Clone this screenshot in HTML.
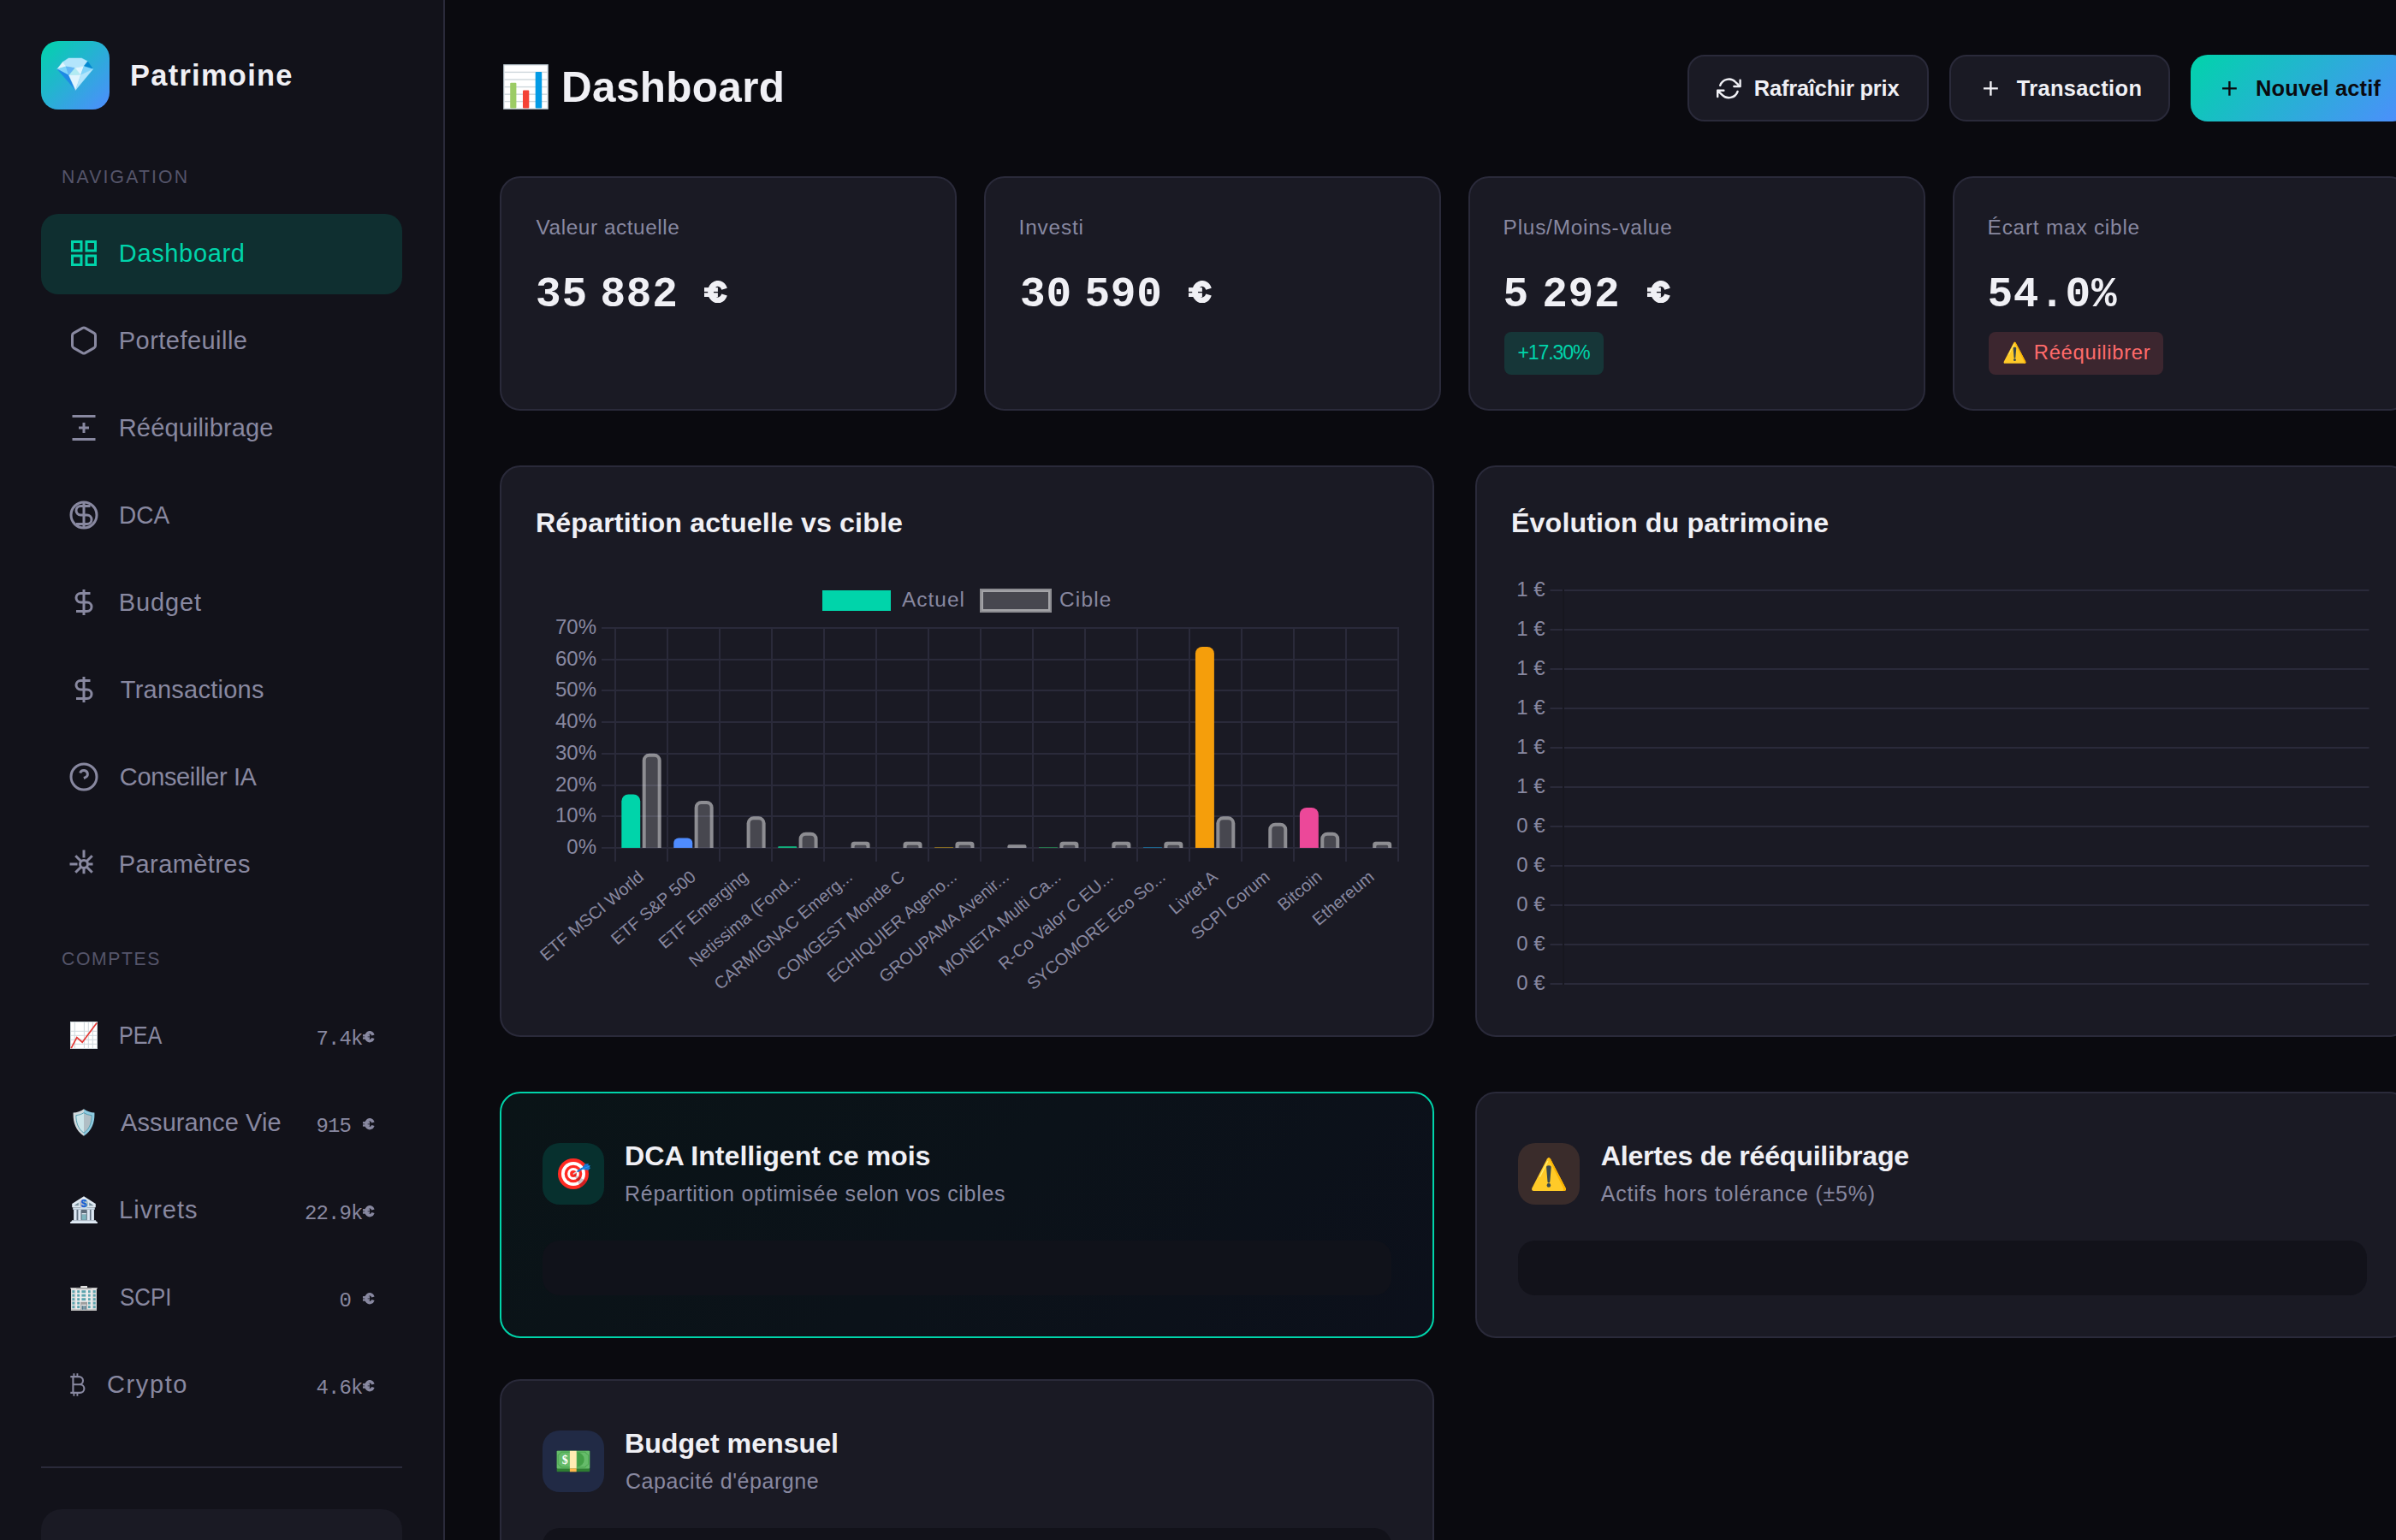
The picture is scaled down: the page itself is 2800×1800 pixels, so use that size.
<!DOCTYPE html>
<html lang="fr"><head><meta charset="utf-8"><title>Patrimoine - Dashboard</title>
<style>
html,body{margin:0;padding:0;}
body{width:2800px;height:1800px;overflow:hidden;position:relative;background:#0a0a0f;font-family:"Liberation Sans",sans-serif;}
.b{position:absolute;display:block;box-sizing:border-box;}
.t{position:absolute;white-space:nowrap;margin:0;}
</style></head><body>
<aside>
<div class="b" style="left:0px;top:0px;width:518px;height:1800px;background:#12121a;border-radius:0px;"></div>
<div class="b" style="left:518px;top:0px;width:2px;height:1800px;background:#2a2a3a;border-radius:0px;"></div>
<div class="b" style="left:48px;top:48px;width:80px;height:80px;background:linear-gradient(135deg,#00d4aa,#4f8cff);border-radius:20px;"></div>
<svg class="b" style="left:48px;top:48px" width="80" height="80" viewBox="0 0 80 80" ><polygon points="25.3,24.4 32.1,19.9 47.4,19.9 54.5,23.7 50,29.4 39.6,31.5 29.2,29.7" fill="#b3e5fc" stroke="#b3e5fc" stroke-width="0.4"/><polygon points="25.3,24.4 29.2,29.7 18.8,32.8" fill="#e1f5fe" stroke="#e1f5fe" stroke-width="0.4"/><polygon points="54.5,23.7 60.7,32.7 50,29.4" fill="#0288d1" stroke="#0288d1" stroke-width="0.4"/><polygon points="18.8,32.8 29.2,29.7 32.5,40.1" fill="#81d4fa" stroke="#81d4fa" stroke-width="0.4"/><polygon points="29.2,29.7 39.6,31.5 32.5,40.1" fill="#64b5f6" stroke="#64b5f6" stroke-width="0.4"/><polygon points="39.6,31.5 46.4,39.6 32.5,40.1" fill="#b2ebf2" stroke="#b2ebf2" stroke-width="0.4"/><polygon points="39.6,31.5 50,29.4 46.4,39.6" fill="#e1f5fe" stroke="#e1f5fe" stroke-width="0.4"/><polygon points="50,29.4 60.7,32.7 46.4,39.6" fill="#81d4fa" stroke="#81d4fa" stroke-width="0.4"/><polygon points="18.8,32.8 32.5,40.1 40.3,57.3" fill="#1e88e5" stroke="#1e88e5" stroke-width="0.4"/><polygon points="32.5,40.1 46.4,39.6 40.3,57.3" fill="#e1f5fe" stroke="#e1f5fe" stroke-width="0.4"/><polygon points="60.7,32.7 46.4,39.6 40.3,57.3" fill="#b3e5fc" stroke="#b3e5fc" stroke-width="0.4"/></svg>
<div id="logo" class="t" style="left:152.00px;top:71.18px;font:700 34.40px/1 'Liberation Sans',sans-serif;color:#f0f0f5;letter-spacing:1.300px;">Patrimoine</div>
<div id="secnav" class="t" style="left:72.00px;top:196.15px;font:400 21.20px/1 'Liberation Sans',sans-serif;color:#55556a;letter-spacing:2.164px;">NAVIGATION</div>
<div class="b" style="left:48px;top:250px;width:422px;height:94px;background:#0f2f30;border-radius:20px;"></div>
<svg class="b" style="left:80px;top:278px" width="36" height="36" viewBox="0 0 24 24" fill="none" stroke="#00d4aa" stroke-width="2"><rect x="3" y="3" width="7" height="7"/><rect x="14" y="3" width="7" height="7"/><rect x="14" y="14" width="7" height="7"/><rect x="3" y="14" width="7" height="7"/></svg>
<div id="nav0" class="t" style="left:138.80px;top:281.95px;font:400 29.00px/1 'Liberation Sans',sans-serif;color:#00d4aa;letter-spacing:0.657px;">Dashboard</div>
<svg class="b" style="left:80px;top:380px" width="36" height="36" viewBox="0 0 24 24" fill="none" stroke="#8888a0" stroke-width="2"><path stroke-linejoin="round" d="M21 16V8a2 2 0 0 0-1-1.73l-7-4a2 2 0 0 0-2 0l-7 4A2 2 0 0 0 3 8v8a2 2 0 0 0 1 1.73l7 4a2 2 0 0 0 2 0l7-4A2 2 0 0 0 21 16z"/></svg>
<div id="nav1" class="t" style="left:138.80px;top:383.95px;font:400 29.00px/1 'Liberation Sans',sans-serif;color:#8888a0;letter-spacing:0.458px;">Portefeuille</div>
<svg class="b" style="left:80px;top:482px" width="36" height="36" viewBox="0 0 24 24" fill="none" stroke="#8888a0" stroke-width="2"><path d="M3 3h18M3 21h18M12 8v8M8 12h8"/></svg>
<div id="nav2" class="t" style="left:138.80px;top:485.95px;font:400 29.00px/1 'Liberation Sans',sans-serif;color:#8888a0;letter-spacing:0.131px;">Rééquilibrage</div>
<svg class="b" style="left:80px;top:584px" width="36" height="36" viewBox="0 0 24 24" fill="none" stroke="#8888a0" stroke-width="2"><circle cx="12" cy="12" r="10"/><path d="M12 2v20M17 5H9.5a3.5 3.5 0 0 0 0 7h5a3.5 3.5 0 0 1 0 7H6"/></svg>
<div id="nav3" class="t" style="left:138.87px;top:587.95px;font:400 29.00px/1 'Liberation Sans',sans-serif;color:#8888a0;letter-spacing:0.000px;transform:scaleX(0.9652);transform-origin:0 0;">DCA</div>
<svg class="b" style="left:80px;top:686px" width="36" height="36" viewBox="0 0 24 24" fill="none" stroke="#8888a0" stroke-width="2"><path d="M12 2v20M17 5H9.5a3.5 3.5 0 0 0 0 7h5a3.5 3.5 0 0 1 0 7H6"/></svg>
<div id="nav4" class="t" style="left:138.80px;top:689.95px;font:400 29.00px/1 'Liberation Sans',sans-serif;color:#8888a0;letter-spacing:0.849px;">Budget</div>
<svg class="b" style="left:80px;top:788px" width="36" height="36" viewBox="0 0 24 24" fill="none" stroke="#8888a0" stroke-width="2"><path d="M12 2v20M17 5H9.5a3.5 3.5 0 0 0 0 7h5a3.5 3.5 0 0 1 0 7H6"/></svg>
<div id="nav5" class="t" style="left:140.80px;top:791.95px;font:400 29.00px/1 'Liberation Sans',sans-serif;color:#8888a0;letter-spacing:0.242px;">Transactions</div>
<svg class="b" style="left:80px;top:890px" width="36" height="36" viewBox="0 0 24 24" fill="none" stroke="#8888a0" stroke-width="2"><circle cx="12" cy="12" r="10"/><path d="M9.09 9a3 3 0 0 1 5.83 1c0 2-3 3-3 3"/></svg>
<div id="nav6" class="t" style="left:139.80px;top:893.95px;font:400 29.00px/1 'Liberation Sans',sans-serif;color:#8888a0;letter-spacing:-0.355px;">Conseiller IA</div>
<svg class="b" style="left:80px;top:992px" width="36" height="36" viewBox="0 0 24 24" fill="none" stroke="#8888a0" stroke-width="2"><circle cx="12" cy="12" r="3"/><path d="M12 1v6M12 15.2v4.3M1 12h6M15.2 12h3.8M5.5 5.5L9.7 9.7M18.5 5.5L14.3 9.7M5.5 18.5L9.7 14.3M18.5 18.5L14.3 14.3"/></svg>
<div id="nav7" class="t" style="left:138.80px;top:995.95px;font:400 29.00px/1 'Liberation Sans',sans-serif;color:#8888a0;letter-spacing:0.413px;">Paramètres</div>
<div id="seccpt" class="t" style="left:72.00px;top:1109.85px;font:400 21.20px/1 'Liberation Sans',sans-serif;color:#55556a;letter-spacing:1.594px;">COMPTES</div>
<div id="acc0" class="t" style="left:139.26px;top:1196.45px;font:400 29.00px/1 'Liberation Sans',sans-serif;color:#8888a0;letter-spacing:0.000px;transform:scaleX(0.8679);transform-origin:0 0;">PEA</div>
<div id="accv0" class="t" style="right:2376.40px;top:1202.60px;font:400 24.00px/1 'Liberation Mono',monospace;color:#8888a0;letter-spacing:0.000px;letter-spacing:-0.9px;">7.4k</div>
<svg class="b" style="left:424.3px;top:1205.2px" width="13.999999999999998" height="13.389090909090909" viewBox="0 0 27.5 26.3" ><path d="M23.55 9.8 A8.25 9.75 0 1 0 23.55 16.5" fill="none" stroke="#8888a0" stroke-width="6.8"/><rect x="0" y="8.1" width="15.9" height="4.8" fill="#8888a0"/><rect x="0" y="14.3" width="15.9" height="4.7" fill="#8888a0"/></svg>
<div id="acc1" class="t" style="left:141.00px;top:1298.45px;font:400 29.00px/1 'Liberation Sans',sans-serif;color:#8888a0;letter-spacing:0.097px;">Assurance Vie</div>
<div id="accv1" class="t" style="right:2389.90px;top:1304.60px;font:400 24.00px/1 'Liberation Mono',monospace;color:#8888a0;letter-spacing:0.000px;letter-spacing:-0.9px;">915</div>
<svg class="b" style="left:424.3px;top:1307.2px" width="13.999999999999998" height="13.389090909090909" viewBox="0 0 27.5 26.3" ><path d="M23.55 9.8 A8.25 9.75 0 1 0 23.55 16.5" fill="none" stroke="#8888a0" stroke-width="6.8"/><rect x="0" y="8.1" width="15.9" height="4.8" fill="#8888a0"/><rect x="0" y="14.3" width="15.9" height="4.7" fill="#8888a0"/></svg>
<div id="acc2" class="t" style="left:139.00px;top:1400.45px;font:400 29.00px/1 'Liberation Sans',sans-serif;color:#8888a0;letter-spacing:1.031px;">Livrets</div>
<div id="accv2" class="t" style="right:2376.40px;top:1406.60px;font:400 24.00px/1 'Liberation Mono',monospace;color:#8888a0;letter-spacing:0.000px;letter-spacing:-0.9px;">22.9k</div>
<svg class="b" style="left:424.3px;top:1409.2px" width="13.999999999999998" height="13.389090909090909" viewBox="0 0 27.5 26.3" ><path d="M23.55 9.8 A8.25 9.75 0 1 0 23.55 16.5" fill="none" stroke="#8888a0" stroke-width="6.8"/><rect x="0" y="8.1" width="15.9" height="4.8" fill="#8888a0"/><rect x="0" y="14.3" width="15.9" height="4.7" fill="#8888a0"/></svg>
<div id="acc3" class="t" style="left:140.11px;top:1502.45px;font:400 29.00px/1 'Liberation Sans',sans-serif;color:#8888a0;letter-spacing:0.000px;transform:scaleX(0.8912);transform-origin:0 0;">SCPI</div>
<div id="accv3" class="t" style="right:2389.90px;top:1508.60px;font:400 24.00px/1 'Liberation Mono',monospace;color:#8888a0;letter-spacing:0.000px;letter-spacing:-0.9px;">0</div>
<svg class="b" style="left:424.3px;top:1511.2px" width="13.999999999999998" height="13.389090909090909" viewBox="0 0 27.5 26.3" ><path d="M23.55 9.8 A8.25 9.75 0 1 0 23.55 16.5" fill="none" stroke="#8888a0" stroke-width="6.8"/><rect x="0" y="8.1" width="15.9" height="4.8" fill="#8888a0"/><rect x="0" y="14.3" width="15.9" height="4.7" fill="#8888a0"/></svg>
<div id="acc4" class="t" style="left:125.00px;top:1604.45px;font:400 29.00px/1 'Liberation Sans',sans-serif;color:#8888a0;letter-spacing:1.603px;">Crypto</div>
<div id="accv4" class="t" style="right:2376.40px;top:1610.60px;font:400 24.00px/1 'Liberation Mono',monospace;color:#8888a0;letter-spacing:0.000px;letter-spacing:-0.9px;">4.6k</div>
<svg class="b" style="left:424.3px;top:1613.2px" width="13.999999999999998" height="13.389090909090909" viewBox="0 0 27.5 26.3" ><path d="M23.55 9.8 A8.25 9.75 0 1 0 23.55 16.5" fill="none" stroke="#8888a0" stroke-width="6.8"/><rect x="0" y="8.1" width="15.9" height="4.8" fill="#8888a0"/><rect x="0" y="14.3" width="15.9" height="4.7" fill="#8888a0"/></svg>
<svg class="b" style="left:82px;top:1194px" width="32" height="32" viewBox="0 0 32 32" ><rect x="0.5" y="0.5" width="31" height="31" fill="#fff" stroke="#cfd8dc" stroke-width="1"/><rect x="4.8" y="1" width="1" height="30" fill="#cfd8dc"/><rect x="15.899999999999999" y="1" width="1" height="30" fill="#cfd8dc"/><rect x="20.8" y="1" width="1" height="30" fill="#cfd8dc"/><rect x="25.8" y="1" width="1" height="30" fill="#cfd8dc"/><rect x="1" y="10.8" width="30" height="1" fill="#cfd8dc"/><rect x="1" y="15.8" width="30" height="1" fill="#cfd8dc"/><rect x="1" y="20.8" width="30" height="1" fill="#cfd8dc"/><rect x="1" y="25.8" width="30" height="1" fill="#cfd8dc"/><polyline points="1.2,31.2 7.8,18.7 14.2,24.2 31.2,1.4" fill="none" stroke="#e53935" stroke-width="1.7"/></svg>
<svg class="b" style="left:85px;top:1296px" width="26" height="32" viewBox="0 0 26 32" ><clipPath id="shl"><rect x="0" y="0" width="13" height="32"/></clipPath><clipPath id="shr"><rect x="13" y="0" width="13" height="32"/></clipPath><path d="M13 0.3 C9.5 3 5 4.3 0.6 4.6 C0.2 14 2.6 25.5 13 31.8 C23.4 25.5 25.8 14 25.4 4.6 C21 4.3 16.5 3 13 0.3Z" fill="#cfd8dc" clip-path="url(#shl)"/><path d="M13 0.3 C9.5 3 5 4.3 0.6 4.6 C0.2 14 2.6 25.5 13 31.8 C23.4 25.5 25.8 14 25.4 4.6 C21 4.3 16.5 3 13 0.3Z" fill="#8ecae0" clip-path="url(#shr)"/><path d="M13 4.6 C10.3 6.5 7 7.3 3.9 7.6 C3.8 15 5.8 23.5 13 28.2 C20.2 23.5 22.2 15 22.1 7.6 C19 7.3 15.7 6.5 13 4.6Z" fill="#cbe5ea" clip-path="url(#shl)"/><path d="M13 4.6 C10.3 6.5 7 7.3 3.9 7.6 C3.8 15 5.8 23.5 13 28.2 C20.2 23.5 22.2 15 22.1 7.6 C19 7.3 15.7 6.5 13 4.6Z" fill="#b0bec5" clip-path="url(#shr)"/><path d="M13 4.6 C10.3 6.5 7 7.3 3.9 7.6 C3.8 15 5.8 23.5 13 28.2 C20.2 23.5 22.2 15 22.1 7.6 C19 7.3 15.7 6.5 13 4.6Z" fill="none" stroke="#4c9aae" stroke-width="0.9"/></svg>
<svg class="b" style="left:82px;top:1398px" width="32" height="32" viewBox="0 0 32 32" ><polygon points="16,0.3 29.8,9 29.8,13.3 2.2,13.3 2.2,9" fill="#dfe9f3"/><polygon points="4.4,11.2 9.8,7.6 9.8,11.2" fill="#78909c"/><polygon points="27.6,11.2 22.2,7.6 22.2,11.2" fill="#78909c"/><circle cx="16" cy="9" r="5.6" fill="#b0bec5" stroke="#dfe9f3" stroke-width="0.8"/><text x="16" y="13.4" text-anchor="middle" font-family="Liberation Sans,sans-serif" font-weight="700" font-size="12.5" fill="#0d5bd6">$</text><rect x="3.2" y="13.3" width="25.6" height="2.6" fill="#cdddea"/><rect x="4.4" y="15.9" width="23.2" height="12.4" fill="#607080"/><rect x="4.2" y="15.9" width="3.3" height="12.4" fill="#dde8f4"/><rect x="9.4" y="15.9" width="3.3" height="12.4" fill="#dde8f4"/><rect x="19.6" y="15.9" width="3.3" height="12.4" fill="#dde8f4"/><rect x="24.6" y="15.9" width="3.3" height="12.4" fill="#dde8f4"/><rect x="12.7" y="16.4" width="6.8" height="11.9" rx="1.2" fill="#5d6d7b"/><rect x="13.6" y="20" width="5.2" height="1.6" fill="#dfe9f3"/><rect x="13.6" y="21.6" width="5.2" height="6.2" fill="#7fb6c0"/><polygon points="2.2,28.3 29.8,28.3 31.8,31.7 0.2,31.7" fill="#d5e2ee"/><rect x="0.2" y="30" width="31.6" height="1.9" fill="#e3edf7"/></svg>
<svg class="b" style="left:82px;top:1503px" width="32" height="29" viewBox="0 0 32 29" ><rect x="12.2" y="0" width="7.8" height="2.4" fill="#e0e0e0"/><polygon points="0,2.2 32,2.2 31,4 1,4" fill="#e6e6e6"/><rect x="7.2" y="2.4" width="17.6" height="1.6" fill="#a9a9a9"/><rect x="1.2" y="4" width="29.6" height="24.8" fill="#ececec"/><rect x="1.2" y="4" width="5.4" height="24.8" fill="#dcdcdc"/><rect x="25.4" y="4" width="5.4" height="24.8" fill="#dcdcdc"/><rect x="1.2" y="27.2" width="29.6" height="1.8" fill="#bdbdbd"/><rect x="2.4" y="5.2" width="2.9" height="2.9" fill="#5ba4ae"/><rect x="8.2" y="5.2" width="2.9" height="2.9" fill="#5ba4ae"/><rect x="13.4" y="5.2" width="4.8" height="2.9" fill="#5ba4ae"/><rect x="21" y="5.2" width="2.7" height="2.9" fill="#5ba4ae"/><rect x="26.8" y="5.2" width="2.9" height="2.9" fill="#5ba4ae"/><rect x="2.4" y="9.7" width="2.9" height="2.9" fill="#5ba4ae"/><rect x="8.2" y="9.7" width="2.9" height="2.9" fill="#5ba4ae"/><rect x="13.4" y="9.7" width="4.8" height="2.9" fill="#5ba4ae"/><rect x="21" y="9.7" width="2.7" height="2.9" fill="#5ba4ae"/><rect x="26.8" y="9.7" width="2.9" height="2.9" fill="#5ba4ae"/><rect x="2.4" y="14.2" width="2.9" height="2.9" fill="#5ba4ae"/><rect x="8.2" y="14.2" width="2.9" height="2.9" fill="#5ba4ae"/><rect x="13.4" y="14.2" width="4.8" height="2.9" fill="#5ba4ae"/><rect x="21" y="14.2" width="2.7" height="2.9" fill="#5ba4ae"/><rect x="26.8" y="14.2" width="2.9" height="2.9" fill="#5ba4ae"/><rect x="2.4" y="18.7" width="2.9" height="2.9" fill="#5ba4ae"/><rect x="8.2" y="18.7" width="2.9" height="2.9" fill="#5ba4ae"/><rect x="21" y="18.7" width="2.7" height="2.9" fill="#5ba4ae"/><rect x="26.8" y="18.7" width="2.9" height="2.9" fill="#5ba4ae"/><rect x="2.4" y="23.2" width="2.9" height="2.9" fill="#5ba4ae"/><rect x="8.2" y="23.2" width="2.9" height="2.9" fill="#5ba4ae"/><rect x="21" y="23.2" width="2.7" height="2.9" fill="#5ba4ae"/><rect x="26.8" y="23.2" width="2.9" height="2.9" fill="#5ba4ae"/><rect x="12.2" y="18.8" width="7.8" height="9.4" fill="#9e9e9e"/><rect x="13.2" y="21.8" width="5.8" height="6.4" fill="#e8e8e8"/><rect x="13.6" y="23.2" width="2.1" height="4.6" fill="#4f7688"/><rect x="16.4" y="23.2" width="2.1" height="4.6" fill="#4f7688"/></svg>
<svg class="b" style="left:82px;top:1605px" width="18" height="27" viewBox="0 0 18 27" ><g fill="none" stroke="#8888a0" stroke-width="2.1"><path d="M3.4 4.1V22.9M0.3 4.1H10.4a4.6 4.6 0 0 1 0 9.2H3.4M3.4 13.3H11.6a4.8 4.8 0 0 1 0 9.6H0.3"/><path d="M4.4 0.2V4.1M8.4 0.2V4.1M4.4 22.9V26.8M8.4 22.9V26.8" stroke-width="1.9"/></g></svg>
<div class="b" style="left:48px;top:1714px;width:422px;height:2px;background:#2a2a3a;border-radius:0px;"></div>
<div class="b" style="left:48px;top:1764px;width:422px;height:60px;background:#1a1a24;border-radius:24px;"></div>
</aside>
<main>
<header>
<svg class="b" style="left:588px;top:75px" width="53" height="53" viewBox="0 0 53 53" ><rect x="0.75" y="0.75" width="51.5" height="51.5" fill="#fff" stroke="#b4c1c8" stroke-width="1.2"/><rect x="1.5" y="8.700000000000001" width="50" height="1.4" fill="#cfd8dc"/><rect x="1.5" y="17.3" width="50" height="1.4" fill="#cfd8dc"/><rect x="1.5" y="25.900000000000002" width="50" height="1.4" fill="#cfd8dc"/><rect x="1.5" y="34.5" width="50" height="1.4" fill="#cfd8dc"/><rect x="1.5" y="42.9" width="50" height="1.4" fill="#cfd8dc"/><rect x="8.2" y="21.8" width="7.2" height="29.6" rx="1" fill="#9ccc65"/><rect x="23" y="30.4" width="7.3" height="21" rx="1" fill="#f44336"/><rect x="37.7" y="8.9" width="7.5" height="42.5" rx="1" fill="#039be5"/></svg>
<div id="title" class="t" style="left:656.00px;top:77.18px;font:700 49.40px/1 'Liberation Sans',sans-serif;color:#f0f0f5;letter-spacing:0.374px;">Dashboard</div>
<div class="b" style="left:1972px;top:64px;width:282px;height:78px;background:#1a1a24;border-radius:20px;border:2px solid #2a2a3a;box-sizing:border-box;"></div>
<svg class="b" style="left:2005.8px;top:89.4px" width="28.8" height="28.8" viewBox="0 0 24 24" fill="none" stroke="#f0f0f5" stroke-width="2"><path stroke-linecap="round" stroke-linejoin="round" d="M23 4v6h-6M1 20v-6h6M3.51 9a9 9 0 0 1 14.85-3.36L23 10M1 14l4.64 4.36A9 9 0 0 0 20.49 15"/></svg>
<div id="btn1" class="t" style="left:2049.80px;top:90.70px;font:700 25.40px/1 'Liberation Sans',sans-serif;color:#f0f0f5;letter-spacing:-0.174px;">Rafraîchir prix</div>
<div class="b" style="left:2278px;top:64px;width:258px;height:78px;background:#1a1a24;border-radius:20px;border:2px solid #2a2a3a;box-sizing:border-box;"></div>
<svg class="b" style="left:2311.8px;top:89.4px" width="28.8" height="28.8" viewBox="0 0 24 24" fill="none" stroke="#f0f0f5" stroke-width="2"><path d="M12 5v14M5 12h14"/></svg>
<div id="btn2" class="t" style="left:2356.80px;top:90.70px;font:700 25.40px/1 'Liberation Sans',sans-serif;color:#f0f0f5;letter-spacing:0.360px;">Transaction</div>
<div class="b" style="left:2560px;top:64px;width:256px;height:78px;background:linear-gradient(135deg,#00d4aa,#4f8cff);border-radius:20px;"></div>
<svg class="b" style="left:2591.4px;top:89.4px" width="28.8" height="28.8" viewBox="0 0 24 24" fill="none" stroke="#0a0a0f" stroke-width="2"><path d="M12 5v14M5 12h14"/></svg>
<div id="btn3" class="t" style="left:2636.00px;top:90.70px;font:700 25.40px/1 'Liberation Sans',sans-serif;color:#0a0a0f;letter-spacing:0.186px;">Nouvel actif</div>
</header>
<section>
<div class="b" style="left:584px;top:206px;width:534px;height:274px;background:#1a1a24;border-radius:24px;border:2px solid #2a2a3a;box-sizing:border-box;"></div>
<div id="sl0" class="t" style="left:626.60px;top:253.55px;font:400 24.40px/1 'Liberation Sans',sans-serif;color:#8888a0;letter-spacing:0.552px;">Valeur actuelle</div>
<div class="b" style="left:1150px;top:206px;width:534px;height:274px;background:#1a1a24;border-radius:24px;border:2px solid #2a2a3a;box-sizing:border-box;"></div>
<div id="sl1" class="t" style="left:1190.60px;top:253.55px;font:400 24.40px/1 'Liberation Sans',sans-serif;color:#8888a0;letter-spacing:0.821px;">Investi</div>
<div class="b" style="left:1716px;top:206px;width:534px;height:274px;background:#1a1a24;border-radius:24px;border:2px solid #2a2a3a;box-sizing:border-box;"></div>
<div id="sl2" class="t" style="left:1756.60px;top:253.55px;font:400 24.40px/1 'Liberation Sans',sans-serif;color:#8888a0;letter-spacing:0.763px;">Plus/Moins-value</div>
<div class="b" style="left:2282px;top:206px;width:534px;height:274px;background:#1a1a24;border-radius:24px;border:2px solid #2a2a3a;box-sizing:border-box;"></div>
<div id="sl3" class="t" style="left:2322.60px;top:253.55px;font:400 24.40px/1 'Liberation Sans',sans-serif;color:#8888a0;letter-spacing:0.775px;">Écart max cible</div>
<div id="v1a" class="t" style="left:626.00px;top:320.53px;font:700 49.40px/1 'Liberation Mono',monospace;color:#f0f0f5;letter-spacing:0.000px;letter-spacing:0.76px;">35</div>
<div id="v1b" class="t" style="left:701.40px;top:320.53px;font:700 49.40px/1 'Liberation Mono',monospace;color:#f0f0f5;letter-spacing:0.000px;letter-spacing:0.76px;">882</div>
<svg class="b" style="left:822.8px;top:327.7px" width="27.5" height="26.3" viewBox="0 0 27.5 26.3" ><path d="M23.55 9.8 A8.25 9.75 0 1 0 23.55 16.5" fill="none" stroke="#f0f0f5" stroke-width="6.8"/><rect x="0" y="8.1" width="15.9" height="4.8" fill="#f0f0f5"/><rect x="0" y="14.3" width="15.9" height="4.7" fill="#f0f0f5"/></svg>
<div id="v2a" class="t" style="left:1192.00px;top:320.53px;font:700 49.40px/1 'Liberation Mono',monospace;color:#f0f0f5;letter-spacing:0.000px;letter-spacing:0.76px;">30</div>
<div id="v2b" class="t" style="left:1267.40px;top:320.53px;font:700 49.40px/1 'Liberation Mono',monospace;color:#f0f0f5;letter-spacing:0.000px;letter-spacing:0.76px;">590</div>
<svg class="b" style="left:1388.6px;top:327.7px" width="27.5" height="26.3" viewBox="0 0 27.5 26.3" ><path d="M23.55 9.8 A8.25 9.75 0 1 0 23.55 16.5" fill="none" stroke="#f0f0f5" stroke-width="6.8"/><rect x="0" y="8.1" width="15.9" height="4.8" fill="#f0f0f5"/><rect x="0" y="14.3" width="15.9" height="4.7" fill="#f0f0f5"/></svg>
<div id="v3a" class="t" style="left:1756.40px;top:320.53px;font:700 49.40px/1 'Liberation Mono',monospace;color:#f0f0f5;letter-spacing:0.000px;letter-spacing:0.76px;">5</div>
<div id="v3b" class="t" style="left:1802.20px;top:320.53px;font:700 49.40px/1 'Liberation Mono',monospace;color:#f0f0f5;letter-spacing:0.000px;letter-spacing:0.76px;">292</div>
<svg class="b" style="left:1924.5px;top:327.7px" width="27.5" height="26.3" viewBox="0 0 27.5 26.3" ><path d="M23.55 9.8 A8.25 9.75 0 1 0 23.55 16.5" fill="none" stroke="#f0f0f5" stroke-width="6.8"/><rect x="0" y="8.1" width="15.9" height="4.8" fill="#f0f0f5"/><rect x="0" y="14.3" width="15.9" height="4.7" fill="#f0f0f5"/></svg>
<div id="v4" class="t" style="left:2322.40px;top:320.53px;font:700 49.40px/1 'Liberation Mono',monospace;color:#f0f0f5;letter-spacing:0.000px;letter-spacing:0.76px;">54.0%</div>
<div class="b" style="left:1758px;top:388px;width:116px;height:50px;background:#163638;border-radius:8px;"></div>
<div id="bd1" class="t" style="left:1773.40px;top:400.96px;font:400 23.20px/1 'Liberation Sans',sans-serif;color:#00d4aa;letter-spacing:-1.161px;">+17.30%</div>
<div class="b" style="left:2324px;top:388px;width:204px;height:50px;background:#3c262f;border-radius:8px;"></div>
<svg class="b" style="left:2341.4px;top:398.8px" width="27" height="25.84" viewBox="15.1 15.9 41.8 40" ><path d="M33.9 18.6 Q35.9 15.4 37.9 18.6 L55.6 52.4 Q56.9 55.9 53.4 55.9 L18.6 55.9 Q15.1 55.9 16.4 52.4 Z" fill="#ffca28"/><path d="M37.9 18.6 L55.6 52.4 Q56.9 55.9 53.4 55.9 L51 55.9 Q54.2 55.7 52.8 52.4 L35.2 17.1 Q36.8 16.4 37.9 18.6Z" fill="#fbb300"/><path d="M34.6 21.5 L25.6 39.2" stroke="#fff176" stroke-width="1.3" stroke-linecap="round"/><path d="M33.1 28.4 Q32.9 26.2 35.9 26.2 Q38.9 26.2 38.7 28.4 L37.3 45.2 Q37.2 46.4 35.9 46.4 Q34.6 46.4 34.5 45.2 Z" fill="#37474f"/><circle cx="35.9" cy="49.4" r="2.3" fill="#37474f"/></svg>
<div id="bd2" class="t" style="left:2376.80px;top:400.15px;font:400 23.80px/1 'Liberation Sans',sans-serif;color:#ff6b6b;letter-spacing:0.693px;">Rééquilibrer</div>
</section>
<section>
<div class="b" style="left:584px;top:544px;width:1092px;height:668px;background:#1a1a24;border-radius:24px;border:2px solid #2a2a3a;box-sizing:border-box;"></div>
<div class="b" style="left:1724px;top:544px;width:1092px;height:668px;background:#1a1a24;border-radius:24px;border:2px solid #2a2a3a;box-sizing:border-box;"></div>
<div id="ct1" class="t" style="left:626.00px;top:594.84px;font:700 32.20px/1 'Liberation Sans',sans-serif;color:#f0f0f5;letter-spacing:0.113px;">Répartition actuelle vs cible</div>
<div id="ct2" class="t" style="left:1766.00px;top:594.84px;font:700 32.20px/1 'Liberation Sans',sans-serif;color:#f0f0f5;letter-spacing:0.124px;">Évolution du patrimoine</div>
<svg class="b" style="left:584px;top:544px" width="1092" height="668" viewBox="584 544 1092 668"><rect x="703" y="990" width="931.5" height="2" fill="#2a2a3a"/><rect x="703" y="953" width="931.5" height="2" fill="#2a2a3a"/><rect x="703" y="917" width="931.5" height="2" fill="#2a2a3a"/><rect x="703" y="880" width="931.5" height="2" fill="#2a2a3a"/><rect x="703" y="843" width="931.5" height="2" fill="#2a2a3a"/><rect x="703" y="806" width="931.5" height="2" fill="#2a2a3a"/><rect x="703" y="770" width="931.5" height="2" fill="#2a2a3a"/><rect x="703" y="733" width="931.5" height="2" fill="#2a2a3a"/><rect x="718" y="733.0" width="2" height="274.0" fill="#2a2a3a"/><rect x="779" y="733.0" width="2" height="274.0" fill="#2a2a3a"/><rect x="840" y="733.0" width="2" height="274.0" fill="#2a2a3a"/><rect x="901" y="733.0" width="2" height="274.0" fill="#2a2a3a"/><rect x="962" y="733.0" width="2" height="274.0" fill="#2a2a3a"/><rect x="1023" y="733.0" width="2" height="274.0" fill="#2a2a3a"/><rect x="1084" y="733.0" width="2" height="274.0" fill="#2a2a3a"/><rect x="1145" y="733.0" width="2" height="274.0" fill="#2a2a3a"/><rect x="1206" y="733.0" width="2" height="274.0" fill="#2a2a3a"/><rect x="1267" y="733.0" width="2" height="274.0" fill="#2a2a3a"/><rect x="1328" y="733.0" width="2" height="274.0" fill="#2a2a3a"/><rect x="1389" y="733.0" width="2" height="274.0" fill="#2a2a3a"/><rect x="1450" y="733.0" width="2" height="274.0" fill="#2a2a3a"/><rect x="1511" y="733.0" width="2" height="274.0" fill="#2a2a3a"/><rect x="1572" y="733.0" width="2" height="274.0" fill="#2a2a3a"/><rect x="1633" y="733.0" width="2" height="274.0" fill="#2a2a3a"/><path d="M726.32 991.00V936.40a8.00 8.00 0 0 1 8.00 -8.00H740.26a8.00 8.00 0 0 1 8.00 8.00V991.00Z" fill="#00d4aa"/><path d="M750.70 991.00V888.86a8.00 8.00 0 0 1 8.00 -8.00H764.65a8.00 8.00 0 0 1 8.00 8.00V991.00Z" fill="#fff" fill-opacity="0.2"/><path d="M750.70 991.00V888.86a8.00 8.00 0 0 1 8.00 -8.00H764.65a8.00 8.00 0 0 1 8.00 8.00V991.00Z M754.70 991.00V888.86a4.00 4.00 0 0 1 4.00 -4.00H764.65a4.00 4.00 0 0 1 4.00 4.00V991.00Z" fill="#fff" fill-opacity="0.38" fill-rule="evenodd"/><path d="M787.28 991.00V985.22a5.78 5.78 0 0 1 5.78 -5.78H803.45a5.78 5.78 0 0 1 5.78 5.78V991.00Z" fill="#4f8cff"/><path d="M811.67 991.00V943.93a8.00 8.00 0 0 1 8.00 -8.00H825.62a8.00 8.00 0 0 1 8.00 8.00V991.00Z" fill="#fff" fill-opacity="0.2"/><path d="M811.67 991.00V943.93a8.00 8.00 0 0 1 8.00 -8.00H825.62a8.00 8.00 0 0 1 8.00 8.00V991.00Z M815.67 991.00V943.93a4.00 4.00 0 0 1 4.00 -4.00H825.62a4.00 4.00 0 0 1 4.00 4.00V991.00Z" fill="#fff" fill-opacity="0.38" fill-rule="evenodd"/><path d="M872.64 991.00V962.29a8.00 8.00 0 0 1 8.00 -8.00H886.58a8.00 8.00 0 0 1 8.00 8.00V991.00Z" fill="#fff" fill-opacity="0.2"/><path d="M872.64 991.00V962.29a8.00 8.00 0 0 1 8.00 -8.00H886.58a8.00 8.00 0 0 1 8.00 8.00V991.00Z M876.64 991.00V962.29a4.00 4.00 0 0 1 4.00 -4.00H886.58a4.00 4.00 0 0 1 4.00 4.00V991.00Z" fill="#fff" fill-opacity="0.38" fill-rule="evenodd"/><path d="M909.22 991.00V990.08a0.92 0.92 0 0 1 0.92 -0.92H930.25a0.92 0.92 0 0 1 0.92 0.92V991.00Z" fill="#10b981"/><path d="M933.60 991.00V980.64a8.00 8.00 0 0 1 8.00 -8.00H947.55a8.00 8.00 0 0 1 8.00 8.00V991.00Z" fill="#fff" fill-opacity="0.2"/><path d="M933.60 991.00V980.64a8.00 8.00 0 0 1 8.00 -8.00H947.55a8.00 8.00 0 0 1 8.00 8.00V991.00Z M937.60 991.00V980.64a4.00 4.00 0 0 1 4.00 -4.00H947.55a4.00 4.00 0 0 1 4.00 4.00V991.00Z" fill="#fff" fill-opacity="0.38" fill-rule="evenodd"/><path d="M994.57 991.00V987.33a3.67 3.67 0 0 1 3.67 -3.67H1012.85a3.67 3.67 0 0 1 3.67 3.67V991.00Z" fill="#fff" fill-opacity="0.2"/><path d="M994.57 991.00V987.33a3.67 3.67 0 0 1 3.67 -3.67H1012.85a3.67 3.67 0 0 1 3.67 3.67V991.00Z M998.57 991.00V989.33a1.67 1.67 0 0 1 1.67 -1.67H1010.85a1.67 1.67 0 0 1 1.67 1.67V991.00Z" fill="#fff" fill-opacity="0.38" fill-rule="evenodd"/><path d="M1055.54 991.00V987.33a3.67 3.67 0 0 1 3.67 -3.67H1073.81a3.67 3.67 0 0 1 3.67 3.67V991.00Z" fill="#fff" fill-opacity="0.2"/><path d="M1055.54 991.00V987.33a3.67 3.67 0 0 1 3.67 -3.67H1073.81a3.67 3.67 0 0 1 3.67 3.67V991.00Z M1059.54 991.00V989.33a1.67 1.67 0 0 1 1.67 -1.67H1071.81a1.67 1.67 0 0 1 1.67 1.67V991.00Z" fill="#fff" fill-opacity="0.38" fill-rule="evenodd"/><path d="M1092.12 991.00V990.78a0.22 0.22 0 0 1 0.22 -0.22H1113.84a0.22 0.22 0 0 1 0.22 0.22V991.00Z" fill="#eab308"/><path d="M1116.50 991.00V987.33a3.67 3.67 0 0 1 3.67 -3.67H1134.78a3.67 3.67 0 0 1 3.67 3.67V991.00Z" fill="#fff" fill-opacity="0.2"/><path d="M1116.50 991.00V987.33a3.67 3.67 0 0 1 3.67 -3.67H1134.78a3.67 3.67 0 0 1 3.67 3.67V991.00Z M1120.50 991.00V989.33a1.67 1.67 0 0 1 1.67 -1.67H1132.78a1.67 1.67 0 0 1 1.67 1.67V991.00Z" fill="#fff" fill-opacity="0.38" fill-rule="evenodd"/><path d="M1177.47 991.00V989.16a1.84 1.84 0 0 1 1.84 -1.84H1197.58a1.84 1.84 0 0 1 1.84 1.84V991.00Z" fill="#fff" fill-opacity="0.2"/><path d="M1177.47 991.00V989.16a1.84 1.84 0 0 1 1.84 -1.84H1197.58a1.84 1.84 0 0 1 1.84 1.84V991.00Z" fill="#fff" fill-opacity="0.38"/><path d="M1214.05 991.00V990.78a0.22 0.22 0 0 1 0.22 -0.22H1235.78a0.22 0.22 0 0 1 0.22 0.22V991.00Z" fill="#22c55e"/><path d="M1238.44 991.00V987.33a3.67 3.67 0 0 1 3.67 -3.67H1256.71a3.67 3.67 0 0 1 3.67 3.67V991.00Z" fill="#fff" fill-opacity="0.2"/><path d="M1238.44 991.00V987.33a3.67 3.67 0 0 1 3.67 -3.67H1256.71a3.67 3.67 0 0 1 3.67 3.67V991.00Z M1242.44 991.00V989.33a1.67 1.67 0 0 1 1.67 -1.67H1254.71a1.67 1.67 0 0 1 1.67 1.67V991.00Z" fill="#fff" fill-opacity="0.38" fill-rule="evenodd"/><path d="M1299.40 991.00V987.33a3.67 3.67 0 0 1 3.67 -3.67H1317.68a3.67 3.67 0 0 1 3.67 3.67V991.00Z" fill="#fff" fill-opacity="0.2"/><path d="M1299.40 991.00V987.33a3.67 3.67 0 0 1 3.67 -3.67H1317.68a3.67 3.67 0 0 1 3.67 3.67V991.00Z M1303.40 991.00V989.33a1.67 1.67 0 0 1 1.67 -1.67H1315.68a1.67 1.67 0 0 1 1.67 1.67V991.00Z" fill="#fff" fill-opacity="0.38" fill-rule="evenodd"/><path d="M1335.98 991.00V990.78a0.22 0.22 0 0 1 0.22 -0.22H1357.71a0.22 0.22 0 0 1 0.22 0.22V991.00Z" fill="#0ea5e9"/><path d="M1360.37 991.00V987.33a3.67 3.67 0 0 1 3.67 -3.67H1378.65a3.67 3.67 0 0 1 3.67 3.67V991.00Z" fill="#fff" fill-opacity="0.2"/><path d="M1360.37 991.00V987.33a3.67 3.67 0 0 1 3.67 -3.67H1378.65a3.67 3.67 0 0 1 3.67 3.67V991.00Z M1364.37 991.00V989.33a1.67 1.67 0 0 1 1.67 -1.67H1376.65a1.67 1.67 0 0 1 1.67 1.67V991.00Z" fill="#fff" fill-opacity="0.38" fill-rule="evenodd"/><path d="M1396.95 991.00V764.03a8.00 8.00 0 0 1 8.00 -8.00H1410.90a8.00 8.00 0 0 1 8.00 8.00V991.00Z" fill="#f59e0b"/><path d="M1421.34 991.00V962.29a8.00 8.00 0 0 1 8.00 -8.00H1435.28a8.00 8.00 0 0 1 8.00 8.00V991.00Z" fill="#fff" fill-opacity="0.2"/><path d="M1421.34 991.00V962.29a8.00 8.00 0 0 1 8.00 -8.00H1435.28a8.00 8.00 0 0 1 8.00 8.00V991.00Z M1425.34 991.00V962.29a4.00 4.00 0 0 1 4.00 -4.00H1435.28a4.00 4.00 0 0 1 4.00 4.00V991.00Z" fill="#fff" fill-opacity="0.38" fill-rule="evenodd"/><path d="M1482.30 991.00V969.63a8.00 8.00 0 0 1 8.00 -8.00H1496.25a8.00 8.00 0 0 1 8.00 8.00V991.00Z" fill="#fff" fill-opacity="0.2"/><path d="M1482.30 991.00V969.63a8.00 8.00 0 0 1 8.00 -8.00H1496.25a8.00 8.00 0 0 1 8.00 8.00V991.00Z M1486.30 991.00V969.63a4.00 4.00 0 0 1 4.00 -4.00H1496.25a4.00 4.00 0 0 1 4.00 4.00V991.00Z" fill="#fff" fill-opacity="0.38" fill-rule="evenodd"/><path d="M1518.88 991.00V952.01a8.00 8.00 0 0 1 8.00 -8.00H1532.83a8.00 8.00 0 0 1 8.00 8.00V991.00Z" fill="#ec4899"/><path d="M1543.27 991.00V980.64a8.00 8.00 0 0 1 8.00 -8.00H1557.22a8.00 8.00 0 0 1 8.00 8.00V991.00Z" fill="#fff" fill-opacity="0.2"/><path d="M1543.27 991.00V980.64a8.00 8.00 0 0 1 8.00 -8.00H1557.22a8.00 8.00 0 0 1 8.00 8.00V991.00Z M1547.27 991.00V980.64a4.00 4.00 0 0 1 4.00 -4.00H1557.22a4.00 4.00 0 0 1 4.00 4.00V991.00Z" fill="#fff" fill-opacity="0.38" fill-rule="evenodd"/><path d="M1604.24 991.00V987.33a3.67 3.67 0 0 1 3.67 -3.67H1622.51a3.67 3.67 0 0 1 3.67 3.67V991.00Z" fill="#fff" fill-opacity="0.2"/><path d="M1604.24 991.00V987.33a3.67 3.67 0 0 1 3.67 -3.67H1622.51a3.67 3.67 0 0 1 3.67 3.67V991.00Z M1608.24 991.00V989.33a1.67 1.67 0 0 1 1.67 -1.67H1620.51a1.67 1.67 0 0 1 1.67 1.67V991.00Z" fill="#fff" fill-opacity="0.38" fill-rule="evenodd"/><rect x="961" y="690" width="80" height="24" fill="#00d4aa"/><rect x="1147" y="690" width="80" height="24" fill="#fff" fill-opacity="0.2"/><rect x="1147" y="690" width="80" height="24" fill="none" stroke="#fff" stroke-opacity="0.5" stroke-width="4"/><text x="697" y="997.6" text-anchor="end" font-family="Liberation Sans,sans-serif" font-size="24" fill="#8888a0">0%</text><text x="697" y="960.6" text-anchor="end" font-family="Liberation Sans,sans-serif" font-size="24" fill="#8888a0">10%</text><text x="697" y="924.6" text-anchor="end" font-family="Liberation Sans,sans-serif" font-size="24" fill="#8888a0">20%</text><text x="697" y="887.6" text-anchor="end" font-family="Liberation Sans,sans-serif" font-size="24" fill="#8888a0">30%</text><text x="697" y="850.6" text-anchor="end" font-family="Liberation Sans,sans-serif" font-size="24" fill="#8888a0">40%</text><text x="697" y="813.6" text-anchor="end" font-family="Liberation Sans,sans-serif" font-size="24" fill="#8888a0">50%</text><text x="697" y="777.6" text-anchor="end" font-family="Liberation Sans,sans-serif" font-size="24" fill="#8888a0">60%</text><text x="697" y="740.6" text-anchor="end" font-family="Liberation Sans,sans-serif" font-size="24" fill="#8888a0">70%</text><text transform="translate(741.48 1012.5) rotate(-40.0)" x="0" y="18.9" text-anchor="end" font-family="Liberation Sans,sans-serif" font-size="20" fill="#8888a0">ETF MSCI World</text><text transform="translate(802.45 1012.5) rotate(-40.0)" x="0" y="18.9" text-anchor="end" font-family="Liberation Sans,sans-serif" font-size="20" fill="#8888a0">ETF S&amp;P 500</text><text transform="translate(863.42 1012.5) rotate(-40.0)" x="0" y="18.9" text-anchor="end" font-family="Liberation Sans,sans-serif" font-size="20" fill="#8888a0">ETF Emerging</text><text transform="translate(924.38 1012.5) rotate(-40.0)" x="0" y="18.9" text-anchor="end" font-family="Liberation Sans,sans-serif" font-size="20" fill="#8888a0">Netissima (Fond...</text><text transform="translate(985.35 1012.5) rotate(-40.0)" x="0" y="18.9" text-anchor="end" font-family="Liberation Sans,sans-serif" font-size="20" fill="#8888a0">CARMIGNAC Emerg...</text><text transform="translate(1046.32 1012.5) rotate(-40.0)" x="0" y="18.9" text-anchor="end" font-family="Liberation Sans,sans-serif" font-size="20" fill="#8888a0">COMGEST Monde C</text><text transform="translate(1107.28 1012.5) rotate(-40.0)" x="0" y="18.9" text-anchor="end" font-family="Liberation Sans,sans-serif" font-size="20" fill="#8888a0">ECHIQUIER Ageno...</text><text transform="translate(1168.25 1012.5) rotate(-40.0)" x="0" y="18.9" text-anchor="end" font-family="Liberation Sans,sans-serif" font-size="20" fill="#8888a0">GROUPAMA Avenir...</text><text transform="translate(1229.22 1012.5) rotate(-40.0)" x="0" y="18.9" text-anchor="end" font-family="Liberation Sans,sans-serif" font-size="20" fill="#8888a0">MONETA Multi Ca...</text><text transform="translate(1290.18 1012.5) rotate(-40.0)" x="0" y="18.9" text-anchor="end" font-family="Liberation Sans,sans-serif" font-size="20" fill="#8888a0">R-Co Valor C EU...</text><text transform="translate(1351.15 1012.5) rotate(-40.0)" x="0" y="18.9" text-anchor="end" font-family="Liberation Sans,sans-serif" font-size="20" fill="#8888a0">SYCOMORE Eco So...</text><text transform="translate(1412.12 1012.5) rotate(-40.0)" x="0" y="18.9" text-anchor="end" font-family="Liberation Sans,sans-serif" font-size="20" fill="#8888a0">Livret A</text><text transform="translate(1473.08 1012.5) rotate(-40.0)" x="0" y="18.9" text-anchor="end" font-family="Liberation Sans,sans-serif" font-size="20" fill="#8888a0">SCPI Corum</text><text transform="translate(1534.05 1012.5) rotate(-40.0)" x="0" y="18.9" text-anchor="end" font-family="Liberation Sans,sans-serif" font-size="20" fill="#8888a0">Bitcoin</text><text transform="translate(1595.02 1012.5) rotate(-40.0)" x="0" y="18.9" text-anchor="end" font-family="Liberation Sans,sans-serif" font-size="20" fill="#8888a0">Ethereum</text></svg>
<div id="lg1" class="t" style="left:1054.00px;top:688.95px;font:400 24.40px/1 'Liberation Sans',sans-serif;color:#8888a0;letter-spacing:1.026px;">Actuel</div>
<div id="lg2" class="t" style="left:1238.00px;top:688.95px;font:400 24.40px/1 'Liberation Sans',sans-serif;color:#8888a0;letter-spacing:1.196px;">Cible</div>
<svg class="b" style="left:1724px;top:544px" width="1076" height="668" viewBox="1724 544 1076 668"><rect x="1811.5" y="689" width="957.0" height="2" fill="#2a2a3a"/><text x="1805.6" y="697.2" text-anchor="end" font-family="Liberation Sans,sans-serif" font-size="24" fill="#8888a0">1 €</text><rect x="1811.5" y="735" width="957.0" height="2" fill="#2a2a3a"/><text x="1805.6" y="743.2" text-anchor="end" font-family="Liberation Sans,sans-serif" font-size="24" fill="#8888a0">1 €</text><rect x="1811.5" y="781" width="957.0" height="2" fill="#2a2a3a"/><text x="1805.6" y="789.2" text-anchor="end" font-family="Liberation Sans,sans-serif" font-size="24" fill="#8888a0">1 €</text><rect x="1811.5" y="827" width="957.0" height="2" fill="#2a2a3a"/><text x="1805.6" y="835.2" text-anchor="end" font-family="Liberation Sans,sans-serif" font-size="24" fill="#8888a0">1 €</text><rect x="1811.5" y="873" width="957.0" height="2" fill="#2a2a3a"/><text x="1805.6" y="881.2" text-anchor="end" font-family="Liberation Sans,sans-serif" font-size="24" fill="#8888a0">1 €</text><rect x="1811.5" y="919" width="957.0" height="2" fill="#2a2a3a"/><text x="1805.6" y="927.2" text-anchor="end" font-family="Liberation Sans,sans-serif" font-size="24" fill="#8888a0">1 €</text><rect x="1811.5" y="965" width="957.0" height="2" fill="#2a2a3a"/><text x="1805.6" y="973.2" text-anchor="end" font-family="Liberation Sans,sans-serif" font-size="24" fill="#8888a0">0 €</text><rect x="1811.5" y="1011" width="957.0" height="2" fill="#2a2a3a"/><text x="1805.6" y="1019.2" text-anchor="end" font-family="Liberation Sans,sans-serif" font-size="24" fill="#8888a0">0 €</text><rect x="1811.5" y="1057" width="957.0" height="2" fill="#2a2a3a"/><text x="1805.6" y="1065.2" text-anchor="end" font-family="Liberation Sans,sans-serif" font-size="24" fill="#8888a0">0 €</text><rect x="1811.5" y="1103" width="957.0" height="2" fill="#2a2a3a"/><text x="1805.6" y="1111.2" text-anchor="end" font-family="Liberation Sans,sans-serif" font-size="24" fill="#8888a0">0 €</text><rect x="1811.5" y="1149" width="957.0" height="2" fill="#2a2a3a"/><text x="1805.6" y="1157.2" text-anchor="end" font-family="Liberation Sans,sans-serif" font-size="24" fill="#8888a0">0 €</text><rect x="1826" y="689" width="2" height="462" fill="#17171f"/></svg>
</section>
<section>
<div class="b" style="left:584px;top:1276px;width:1092px;height:288px;background:linear-gradient(135deg,#0a1417,#0c101b);border-radius:24px;border:2px solid #00d4aa;box-sizing:border-box;"></div>
<div class="b" style="left:634px;top:1336px;width:72px;height:72px;background:#07302e;border-radius:20px;"></div>
<svg class="b" style="left:634px;top:1336px" width="72" height="72" viewBox="0 0 72 72" ><circle cx="36" cy="36" r="18" fill="#ff2a23"/><circle cx="36" cy="36" r="14" fill="#fff"/><circle cx="36" cy="36" r="10.3" fill="#ff2a23"/><circle cx="36" cy="36" r="6.9" fill="#fff"/><circle cx="36" cy="36" r="3.9" fill="#ff2a23"/><path d="M36 36 L44.7 51.7 A18 18 0 0 0 51.7 44.7 Z" fill="#3a0018" opacity="0.24"/><path d="M36.3 36 L41.8 32.6" stroke="#cfd8dc" stroke-width="1.5" stroke-linecap="round"/><path d="M41.5 32.9 L46 30" stroke="#1976d2" stroke-width="2.2" stroke-linecap="round"/><path d="M45.2 30.6 L49.5 24.6 L54 24.1 L53.2 26 L56 26.2 L54.6 28.2 L56.2 29 L53.6 31.8 Z" fill="#1976d2"/><path d="M46.2 30.2 L55 27.2" stroke="#2196f3" stroke-width="1"/></svg>
<div id="h1" class="t" style="left:730.00px;top:1334.74px;font:700 32.20px/1 'Liberation Sans',sans-serif;color:#f0f0f5;letter-spacing:-0.036px;">DCA Intelligent ce mois</div>
<div id="s1" class="t" style="left:730.00px;top:1382.84px;font:400 25.00px/1 'Liberation Sans',sans-serif;color:#8888a0;letter-spacing:0.712px;">Répartition optimisée selon vos cibles</div>
<div class="b" style="left:634px;top:1450px;width:992px;height:64px;background:#10121a;border-radius:20px;"></div>
<div class="b" style="left:1724px;top:1276px;width:1092px;height:288px;background:#1a1a24;border-radius:24px;border:2px solid #2a2a3a;box-sizing:border-box;"></div>
<div class="b" style="left:1774px;top:1336px;width:72px;height:72px;background:#3a2c2b;border-radius:20px;"></div>
<svg class="b" style="left:1774px;top:1336px" width="72" height="72" viewBox="0 0 72 72" ><path d="M33.9 18.6 Q35.9 15.4 37.9 18.6 L55.6 52.4 Q56.9 55.9 53.4 55.9 L18.6 55.9 Q15.1 55.9 16.4 52.4 Z" fill="#ffca28"/><path d="M37.9 18.6 L55.6 52.4 Q56.9 55.9 53.4 55.9 L51 55.9 Q54.2 55.7 52.8 52.4 L35.2 17.1 Q36.8 16.4 37.9 18.6Z" fill="#fbb300"/><path d="M34.6 21.5 L25.6 39.2" stroke="#fff176" stroke-width="1.3" stroke-linecap="round"/><path d="M33.1 28.4 Q32.9 26.2 35.9 26.2 Q38.9 26.2 38.7 28.4 L37.3 45.2 Q37.2 46.4 35.9 46.4 Q34.6 46.4 34.5 45.2 Z" fill="#37474f"/><circle cx="35.9" cy="49.4" r="2.3" fill="#37474f"/></svg>
<div id="h2" class="t" style="left:1870.80px;top:1334.74px;font:700 32.20px/1 'Liberation Sans',sans-serif;color:#f0f0f5;letter-spacing:-0.274px;">Alertes de rééquilibrage</div>
<div id="s2" class="t" style="left:1870.80px;top:1382.84px;font:400 25.00px/1 'Liberation Sans',sans-serif;color:#8888a0;letter-spacing:0.784px;">Actifs hors tolérance (±5%)</div>
<div class="b" style="left:1774px;top:1450px;width:992px;height:64px;background:#12121a;border-radius:20px;"></div>
<div class="b" style="left:584px;top:1612px;width:1092px;height:288px;background:#1a1a24;border-radius:24px;border:2px solid #2a2a3a;box-sizing:border-box;"></div>
<div class="b" style="left:634px;top:1672px;width:72px;height:72px;background:#212a45;border-radius:20px;"></div>
<svg class="b" style="left:634px;top:1672px" width="72" height="72" viewBox="0 0 72 72" ><rect x="16.7" y="23.8" width="38.5" height="24.4" rx="0.8" fill="#2e7d32"/><rect x="16.7" y="23.8" width="38.5" height="20.6" rx="0.8" fill="#66bb6a"/><path d="M21.8 25.2 H50.1 Q50.6 27.6 53.7 28.6 V39.6 Q50.6 40.6 50.1 43 H21.8 Q21.3 40.6 18.2 39.6 V28.6 Q21.3 27.6 21.8 25.2Z" fill="#66bb6a" stroke="#43a047" stroke-width="0.8"/><path d="M40.3 25.6 A8.4 8.4 0 0 1 40.3 42.4 Z" fill="#43a047"/><circle cx="41.5" cy="34" r="8.2" fill="#4caf50" opacity="0.0"/><rect x="31.9" y="23.8" width="7.8" height="20.6" fill="#ffecb3"/><rect x="31.9" y="44.4" width="7.8" height="3.9" fill="#ffb74d"/><text x="26.2" y="38.6" text-anchor="middle" font-family="Liberation Serif,serif" font-weight="700" font-size="14" fill="#fff">$</text></svg>
<div id="h3" class="t" style="left:730.00px;top:1670.74px;font:700 32.20px/1 'Liberation Sans',sans-serif;color:#f0f0f5;letter-spacing:-0.034px;">Budget mensuel</div>
<div id="s3" class="t" style="left:731.00px;top:1718.84px;font:400 25.00px/1 'Liberation Sans',sans-serif;color:#8888a0;letter-spacing:0.568px;">Capacité d'épargne</div>
<div class="b" style="left:634px;top:1786px;width:992px;height:64px;background:#12121a;border-radius:20px;"></div>
</section>
</main>
</body></html>
